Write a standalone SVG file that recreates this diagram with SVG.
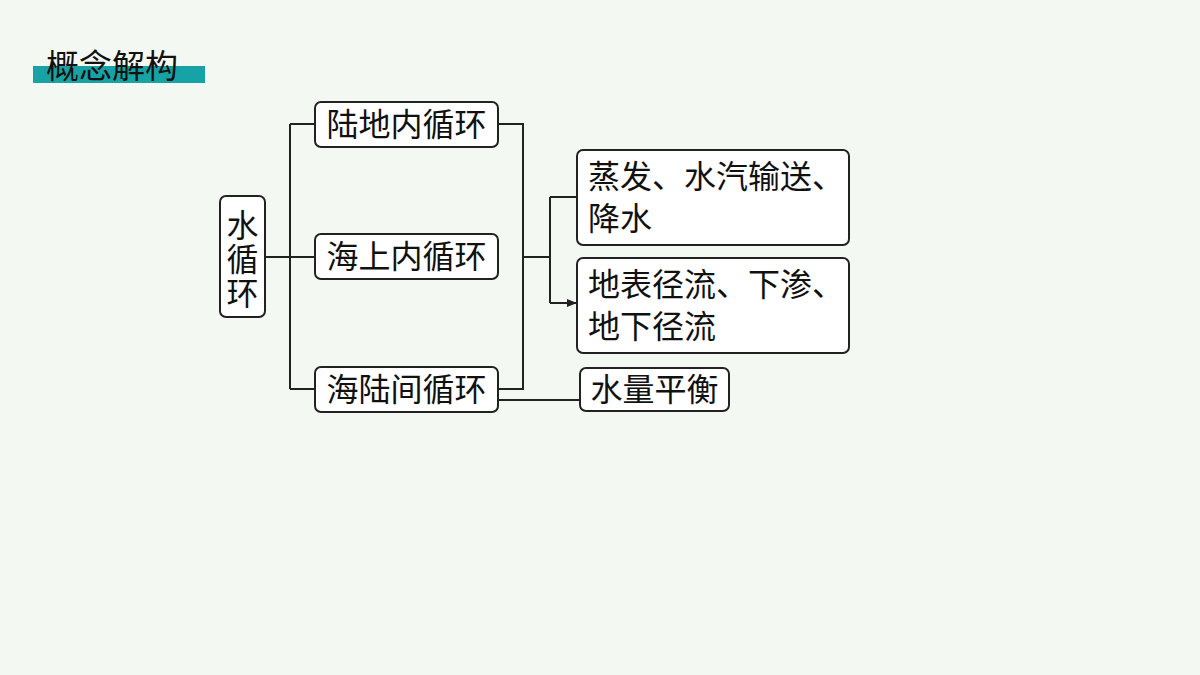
<svg xmlns="http://www.w3.org/2000/svg" width="1200" height="675" viewBox="0 0 1200 675">
<style>
.b{fill:#fff;stroke:#222;stroke-width:2}
.t{font-family:"Liberation Serif","Noto Sans CJK SC",serif;font-size:32px;fill:#111}
.c{fill:none;stroke:#222;stroke-width:2}
</style>
<defs><marker id="a" markerWidth="10" markerHeight="8" refX="10" refY="4" orient="auto" markerUnits="userSpaceOnUse"><path d="M0,0L10,4L0,8z" fill="#222"/></marker></defs>
<rect width="1200" height="675" fill="#f4f8f2"/>
<g id="title"><rect x="33" y="66" width="172" height="17" fill="#17a3a6"/><text x="46" y="78" font-family="Noto Sans CJK SC,sans-serif" font-size="33" fill="#111">概念解构</text></g>
<g id="connectors">
<path class="c" d="M265,257H315M290,124V389M290,124H315M290,389H315"/>
<path class="c" d="M498,124H523V389H498M523,257H550M550,197H577M550,197V303"/>
<path class="c" d="M550,303H577" marker-end="url(#a)"/>
<path class="c" d="M498,400H580"/>
</g>
<g id="n0"><rect class="b" x="220" y="196" width="45" height="121" rx="6"/><text class="t" x="242.5" y="237" text-anchor="middle">水</text><text class="t" x="242.5" y="271" text-anchor="middle">循</text><text class="t" x="242.5" y="305" text-anchor="middle">环</text></g>
<g id="n1"><rect class="b" x="315" y="102" width="183" height="45" rx="6"/><text class="t" x="406.5" y="136" text-anchor="middle">陆地内循环</text></g>
<g id="n2"><rect class="b" x="315" y="234" width="183" height="45" rx="6"/><text class="t" x="406.5" y="268" text-anchor="middle">海上内循环</text></g>
<g id="n3"><rect class="b" x="315" y="367" width="183" height="45" rx="6"/><text class="t" x="406.5" y="401" text-anchor="middle">海陆间循环</text></g>
<g id="n4"><rect class="b" x="577" y="150" width="272" height="95" rx="6"/><text class="t" x="588" y="188">蒸发、水汽输送、</text><text class="t" x="588" y="230">降水</text></g>
<g id="n5"><rect class="b" x="577" y="258" width="272" height="95" rx="6"/><text class="t" x="588" y="296">地表径流、下渗、</text><text class="t" x="588" y="338">地下径流</text></g>
<g id="n6"><rect class="b" x="580" y="368" width="149" height="43" rx="6"/><text class="t" x="654.5" y="401" text-anchor="middle">水量平衡</text></g>
</svg>
